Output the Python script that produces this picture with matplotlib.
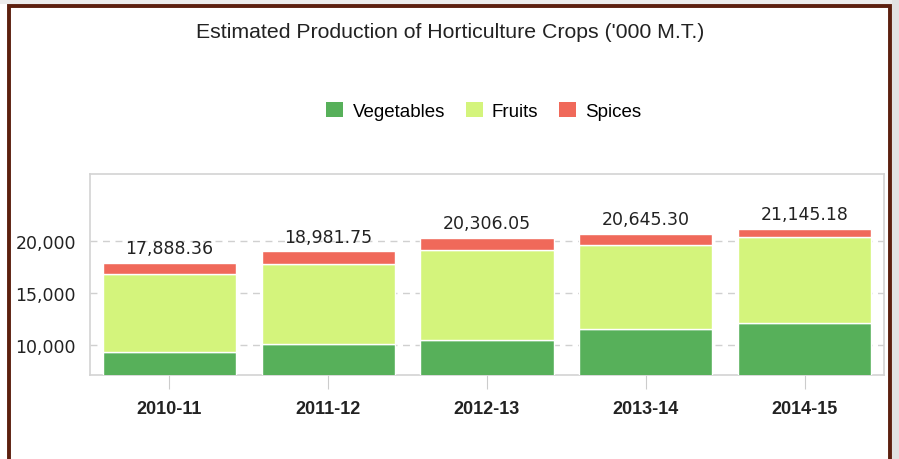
import matplotlib
matplotlib.use("Agg")
import matplotlib.pyplot as plt
from matplotlib.patches import Rectangle, Patch
import numpy as np

# data ('000 M.T.)
years = ["2010-11", "2011-12", "2012-13", "2013-14", "2014-15"]
totals = [17888.36, 18981.75, 20306.05, 20645.30, 21145.18]
vegetables = [9330, 10080, 10490, 11540, 12120]
fruits = [7500, 7690, 8580, 8070, 8230]
spices = [t - v - f for t, v, f in zip(totals, vegetables, fruits)]

C_VEG = "#57b05a"
C_FRUIT = "#d4f47c"
C_SPICE = "#f0695a"

W, H = 899, 460
fig = plt.figure(figsize=(W / 100, H / 100), dpi=100)

# outer frame
fig.patches.append(Rectangle((0, 1 - 5 / H), 1, 5 / H, transform=fig.transFigure,
                             facecolor="#ececec", edgecolor="none", zorder=0))
fig.patches.append(Rectangle((892 / W, 0), 7 / W, 1, transform=fig.transFigure,
                             facecolor="#e2e2e2", edgecolor="none", zorder=0))
fig.patches.append(Rectangle((8.8 / W, -0.05), (890 - 8.8) / W, 1.05 - 6.8 / H,
                             transform=fig.transFigure, facecolor="none",
                             edgecolor="#5c1f0e", linewidth=2.8, zorder=1))

ax = fig.add_axes([90 / W, 84 / H, (884 - 90) / W, (376 - 175) / H])

x = np.arange(len(years))
bw = 0.84
kw = dict(width=bw, edgecolor="white", linewidth=1.0, zorder=3)
ax.bar(x, vegetables, color=C_VEG, **kw)
ax.bar(x, fruits, bottom=vegetables, color=C_FRUIT, **kw)
ax.bar(x, spices, bottom=np.add(vegetables, fruits), color=C_SPICE, **kw)

for xi, t in zip(x, totals):
    ax.annotate(f"{t:,.2f}", (xi, t), xytext=(0, 4), textcoords="offset points",
                ha="center", va="bottom", fontsize=12.5, color="#222222",
                family="DejaVu Sans")

ax.set_xlim(-0.5, len(years) - 0.5)
ax.set_ylim(7090, 26410)
ax.set_yticks([10000, 15000, 20000])
ax.set_yticklabels(["10,000", "15,000", "20,000"], fontsize=12.5, color="#222222",
                   family="DejaVu Sans")
ax.set_xticks(x)
ax.set_xticklabels(years, fontsize=13, fontweight="bold", color="#222222",
                   family="Liberation Sans")
ax.tick_params(axis="y", length=0, pad=10)
ax.tick_params(axis="x", length=10, color="#cccccc", pad=8)
ax.grid(axis="y", color="#d0d0d0", linestyle=(0, (5, 4)), linewidth=1, zorder=0)
for s in ax.spines.values():
    s.set_color("#d3d3d3")
    s.set_linewidth(1.2)

fig.text(450 / W, 1 - 33 / H, "Estimated Production of Horticulture Crops ('000 M.T.)",
         ha="center", va="center", fontsize=15.3, color="#222222",
         family="Liberation Sans")

handles = [Patch(facecolor=C_VEG), Patch(facecolor=C_FRUIT), Patch(facecolor=C_SPICE)]
fig.legend(handles, ["Vegetables", "Fruits", "Spices"], loc="center",
           bbox_to_anchor=(484 / W, 1 - 112 / H), ncol=3, frameon=False,
           handlelength=0.9, handleheight=0.9, handletextpad=0.5, columnspacing=1.1,
           prop={"family": "Liberation Sans", "size": 13.5})

fig.savefig("out.png", dpi=100, facecolor="white")
